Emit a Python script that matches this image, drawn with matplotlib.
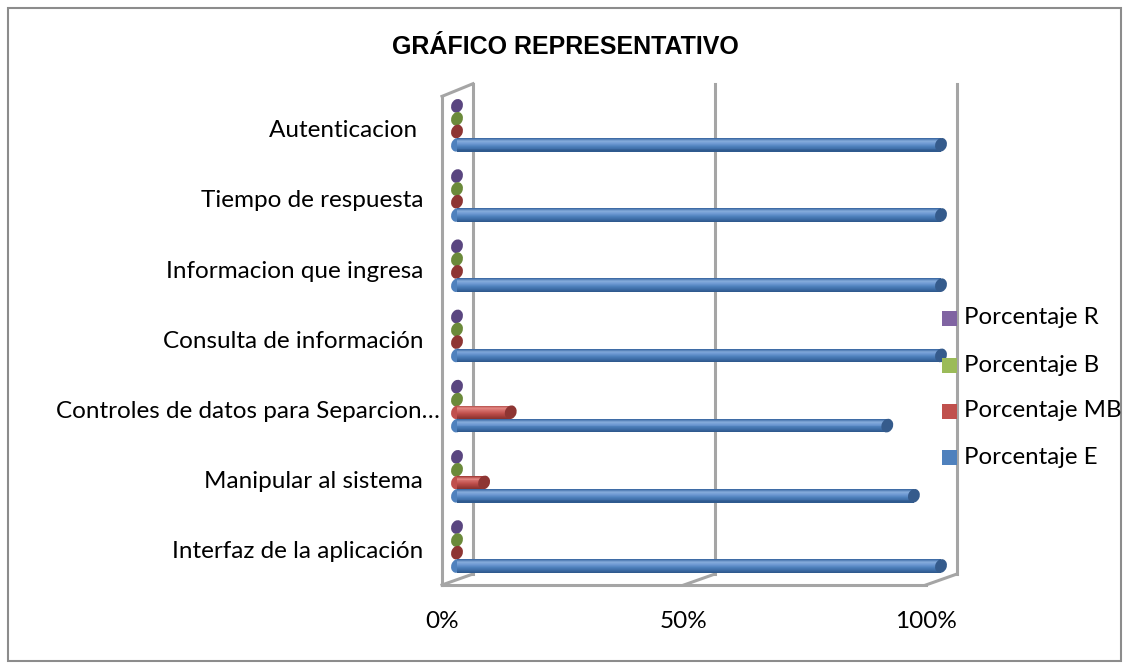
import numpy as np
import matplotlib.pyplot as plt
from matplotlib.patches import Ellipse, Rectangle
from matplotlib.colors import LinearSegmentedColormap
from matplotlib.transforms import ScaledTranslation

# Survey results per item (percent of answers)
categorias = ['Interfaz de la aplicación', 'Manipular al sistema',
              'Controles de datos para Separcion…', 'Consulta de información',
              'Informacion que ingresa', 'Tiempo de respuesta', 'Autenticacion ']
pct_E = [100, 94.4, 88.9, 100, 100, 100, 100]
pct_MB = [0, 5.6, 11.1, 0, 0, 0, 0]
pct_B = [0, 0, 0, 0, 0, 0, 0]
pct_R = [0, 0, 0, 0, 0, 0, 0]
series_names = ['Porcentaje E', 'Porcentaje MB', 'Porcentaje B', 'Porcentaje R']
xticks = [0, 50, 100]
xtick_labels = ['0%', '50%', '100%']

# colours: legend swatch, gradient stops (top -> bottom), end cap
styles = {
    'Porcentaje E': ('#4f81bd', ['#3f6ca6', '#86acdc', '#6d99d2', '#4f81bd', '#3e6ea8', '#2f5a8e'], '#355b8c'),
    'Porcentaje MB': ('#c0504d', ['#a8403d', '#e48884', '#d26a67', '#c0504d', '#a7403d', '#8a3331'], '#8e3533'),
    'Porcentaje B': ('#9bbb59', ['#9bbb59'], '#6b8a3a'),
    'Porcentaje R': ('#8064a2', ['#8064a2'], '#5a4680'),
}
values = {'Porcentaje E': pct_E, 'Porcentaje MB': pct_MB,
          'Porcentaje B': pct_B, 'Porcentaje R': pct_R}
offsets = {'Porcentaje E': 0.0, 'Porcentaje MB': 0.19,
           'Porcentaje B': 0.37, 'Porcentaje R': 0.555}

W, H = 1130, 670
fig = plt.figure(figsize=(W / 100, H / 100), dpi=100)
fig.patch.set_facecolor('white')

ax = fig.add_axes([457 / W, 33.8 / H, 484 / W, 561.6 / H])
ax.set_xlim(0, 100)
ax.set_ylim(-1, 7)
ax.set_axis_off()

font = ['Lato', 'DejaVu Sans']
grid_c = '#a5a5a5'
bar_h = 0.19
cap_w, cap_h = 0.115, 0.14   # inches
back_dx, front_dx = 3.3, -3.1
back_floor, front_floor = -0.114, -0.27
back_top, front_top = 6.87, 6.69

# walls and floor
lk = dict(color=grid_c, lw=2.2, zorder=1, clip_on=False, solid_capstyle='projecting')
ax.plot([front_dx, front_dx], [front_floor, front_top], **lk)
ax.plot([front_dx, back_dx], [front_top, back_top], **lk)
ax.plot([front_dx, back_dx], [front_floor, back_floor], **lk)
ax.plot([back_dx, back_dx], [back_floor, back_top], **lk)
ax.plot([front_dx, 100 + front_dx], [front_floor, front_floor], **lk)
for v in xticks[1:]:
    ax.plot([v + back_dx, v + back_dx], [back_floor, back_top], **lk)
    ax.plot([v + back_dx, v + front_dx], [back_floor, front_floor], **lk)

for v, lab in zip(xticks, xtick_labels):
    ax.text(v + front_dx, -0.79, lab, ha='center', va='center',
            fontsize=17.5, family=font, clip_on=False)


def cap(x, y, color, z):
    tr = fig.dpi_scale_trans + ScaledTranslation(x, y, ax.transData)
    ax.add_patch(Ellipse((0, 0), cap_w, cap_h, angle=-22, transform=tr,
                         facecolor=color, edgecolor='none', zorder=z, clip_on=False))


n_strips = 14
for k, name in enumerate(series_names):
    swatch, stops, cap_c = styles[name]
    cmap = LinearSegmentedColormap.from_list(name, stops)
    for i, v in enumerate(values[name]):
        yc = i + offsets[name]
        z = 10 - k
        if v > 0:
            cap(0, yc, stops[3], z)
            edges = np.linspace(yc + bar_h / 2, yc - bar_h / 2, n_strips + 1)
            for s in range(n_strips):
                ax.barh((edges[s] + edges[s + 1]) / 2, v, height=bar_h / n_strips * 1.15,
                        left=0, color=cmap(s / (n_strips - 1)), lw=0, zorder=z, clip_on=False)
        cap(v, yc, cap_c, z)

# category labels
for i, c in enumerate(categorias):
    x = -3.5 if c.endswith('…') else -7.0
    ax.text(x, i + 0.2, c, ha='right', va='center', fontsize=17.5,
            family=font, clip_on=False)

# legend, top entry = last series
leg_y = [318, 365, 411, 457]
for name, yy in zip(series_names[::-1], leg_y):
    fig.add_artist(Rectangle((942 / W, 1 - (yy + 7.5) / H), 15 / W, 15 / H,
                             transform=fig.transFigure, facecolor=styles[name][0],
                             edgecolor='none', zorder=20))
    fig.text(964 / W, 1 - yy / H, name, ha='left', va='center', fontsize=17.3,
             family=font)

fig.text(0.5, 1 - 47 / H, 'GRÁFICO REPRESENTATIVO', ha='center', va='center',
         fontsize=18, fontweight='bold', family=['Liberation Sans', 'DejaVu Sans'])

fig.add_artist(Rectangle((8 / W, 9 / H), 1113 / W, 653 / H, transform=fig.transFigure,
                         facecolor='none', edgecolor='#8c8c8c', lw=1.5))

fig.savefig('out.png', dpi=100, facecolor='white')
